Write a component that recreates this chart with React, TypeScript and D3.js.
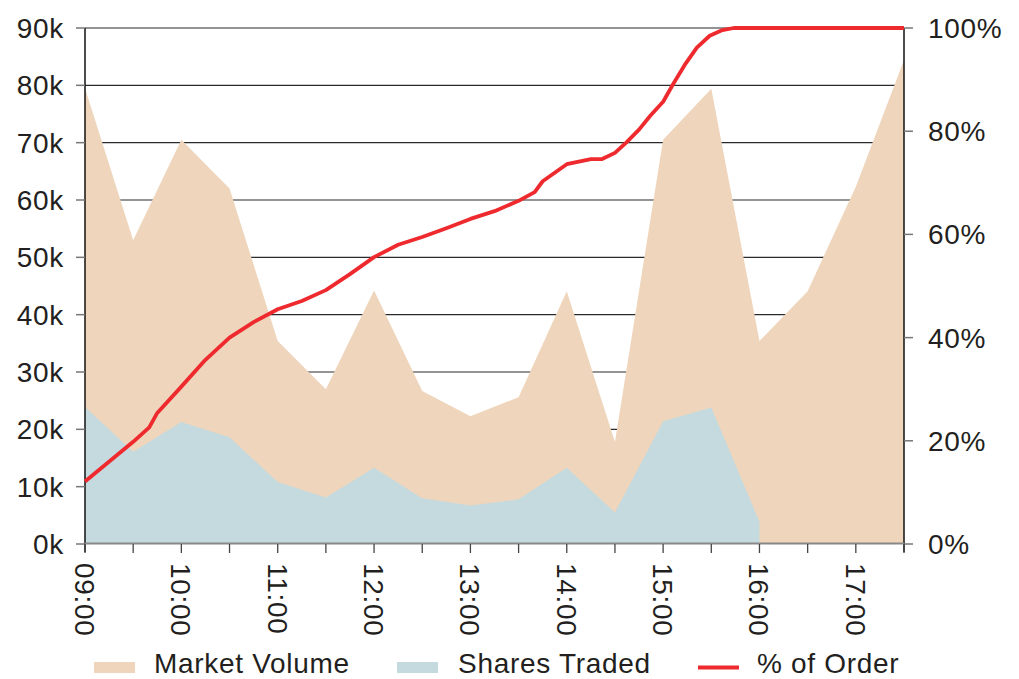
import { useEffect, useRef } from "react";
import * as d3 from "d3";

// half-hourly volume data
const volumeTimes = [
  "09:00", "09:30", "10:00", "10:30", "11:00", "11:30", "12:00", "12:30", "13:00",
  "13:30", "14:00", "14:30", "15:00", "15:30", "16:00", "16:30", "17:00", "17:30",
];
const marketVolume = [
  79500, 53000, 70500, 62000, 35400, 27000, 44200, 26700, 22300,
  25600, 44100, 17800, 70500, 79400, 35400, 44100, 62300, 84400,
];
// shares traded stops at 16:00
const sharesTraded = [
  23900, 16100, 21300, 18600, 10800, 8100, 13300, 8000, 6700,
  7800, 13300, 5500, 21400, 23800, 3900,
];

// cumulative % of order
const orderTimes = [
  "09:00", "09:30", "09:40", "09:45", "10:00", "10:15", "10:30", "10:45", "11:00",
  "11:15", "11:30", "11:45", "12:00", "12:15", "12:30", "12:45", "13:00", "13:15",
  "13:30", "13:40", "13:45", "14:00", "14:15", "14:22", "14:30", "14:37", "14:45",
  "14:52", "15:00", "15:06", "15:14", "15:21", "15:29", "15:37", "15:44", "17:30",
];
const orderPct = [
  12.1, 19.8, 22.6, 25.4, 30.5, 35.7, 40.0, 43.0, 45.5,
  47.1, 49.2, 52.3, 55.6, 58.0, 59.5, 61.2, 63.0, 64.5,
  66.5, 68.2, 70.3, 73.6, 74.6, 74.6, 75.8, 77.8, 80.3,
  83.0, 85.7, 89.0, 93.1, 96.2, 98.5, 99.6, 100, 100,
];

const xTickLabels = ["09:00", "10:00", "11:00", "12:00", "13:00", "14:00", "15:00", "16:00", "17:00"];
const leftTicks = [0, 10000, 20000, 30000, 40000, 50000, 60000, 70000, 80000, 90000];
const rightTicks = [0, 20, 40, 60, 80, 100];
const legendItems = ["Market Volume", "Shares Traded", "% of Order"];

const toMin = (t: string) => +t.slice(0, 2) * 60 + +t.slice(3);

const width = 1019;
const height = 679;
const left = 85;
const right = 904;
const top = 28;
const bottom = 544;
const font = "'Liberation Sans', Arial, Helvetica, sans-serif";
const fs = 28;
const ls = 0.7;

const App = () => {
  const ref = useRef<SVGSVGElement>(null);

  useEffect(() => {
    const svg = d3.select(ref.current);
    svg.selectAll("*").remove();

    const x = d3.scaleLinear().domain([toMin("09:00"), toMin("17:30")]).range([left, right]);
    const yL = d3.scaleLinear().domain([0, 90000]).range([bottom, top]);
    const yR = d3.scaleLinear().domain([0, 100]).range([bottom, top]);

    // grid
    svg
      .append("g")
      .selectAll("line")
      .data(leftTicks.slice(1))
      .join("line")
      .attr("x1", left)
      .attr("x2", right)
      .attr("y1", (d) => yL(d))
      .attr("y2", (d) => yL(d))
      .attr("stroke", "#2a2a2a")
      .attr("stroke-width", 1.2);

    const area = d3
      .area<number>()
      .x((_, i) => x(toMin(volumeTimes[i])))
      .y0(bottom)
      .y1((d) => yL(d));

    svg.append("path").datum(marketVolume).attr("fill", "#EED5BB").attr("d", area);

    const sharesPts = sharesTraded.map((v, i) => [toMin(volumeTimes[i]), v]);
    sharesPts.push([toMin(volumeTimes[sharesTraded.length - 1]), 0]);
    svg
      .append("path")
      .datum(sharesPts)
      .attr("fill", "#C5DADF")
      .attr(
        "d",
        d3
          .area<number[]>()
          .x((d) => x(d[0]))
          .y0(bottom)
          .y1((d) => yL(d[1]))
      );

    // left axis
    const gl = svg.append("g");
    gl.append("line")
      .attr("x1", left).attr("x2", left).attr("y1", top).attr("y2", bottom + 8)
      .attr("stroke", "#111").attr("stroke-width", 1.5);
    gl.selectAll("line.t")
      .data(leftTicks)
      .join("line")
      .attr("class", "t")
      .attr("x1", left - 9).attr("x2", left)
      .attr("y1", (d) => yL(d)).attr("y2", (d) => yL(d))
      .attr("stroke", "#777").attr("stroke-width", 1.5);
    gl.selectAll("text")
      .data(leftTicks)
      .join("text")
      .attr("x", 64)
      .attr("y", (d) => yL(d))
      .attr("dy", "0.36em")
      .attr("text-anchor", "end")
      .attr("font-family", font)
      .attr("font-size", fs)
      .attr("letter-spacing", ls)
      .attr("fill", "#231f20")
      .text((d) => `${d / 1000}k`);

    // right axis
    const gr = svg.append("g");
    gr.append("line")
      .attr("x1", right).attr("x2", right).attr("y1", top).attr("y2", bottom + 8)
      .attr("stroke", "#111").attr("stroke-width", 1.5);
    gr.selectAll("line.t")
      .data(rightTicks)
      .join("line")
      .attr("class", "t")
      .attr("x1", right).attr("x2", right + 9)
      .attr("y1", (d) => yR(d)).attr("y2", (d) => yR(d))
      .attr("stroke", "#777").attr("stroke-width", 1.5);
    gr.selectAll("text")
      .data(rightTicks)
      .join("text")
      .attr("x", 928)
      .attr("y", (d) => yR(d))
      .attr("dy", "0.36em")
      .attr("font-family", font)
      .attr("font-size", fs)
      .attr("letter-spacing", ls)
      .attr("fill", "#231f20")
      .text((d) => `${d}%`);

    // bottom axis
    const gb = svg.append("g");
    gb.append("line")
      .attr("x1", left).attr("x2", right).attr("y1", bottom - 0.5).attr("y2", bottom - 0.5)
      .attr("stroke", "#888").attr("stroke-width", 2);
    gb.selectAll("line.t")
      .data(volumeTimes)
      .join("line")
      .attr("class", "t")
      .attr("x1", (d) => x(toMin(d))).attr("x2", (d) => x(toMin(d)))
      .attr("y1", bottom).attr("y2", bottom + 9)
      .attr("stroke", "#444").attr("stroke-width", 1.3);
    gb.selectAll("text")
      .data(xTickLabels)
      .join("text")
      .attr("transform", (d) => `translate(${x(toMin(d))},${bottom + 19}) rotate(90)`)
      .attr("dy", "0.36em")
      .attr("font-family", font)
      .attr("font-size", fs)
      .attr("letter-spacing", ls)
      .attr("fill", "#231f20")
      .text((d) => d);

    // % of order line
    const line = d3
      .line<number>()
      .x((_, i) => x(toMin(orderTimes[i])))
      .y((d) => yR(d));
    svg
      .append("path")
      .datum(orderPct)
      .attr("fill", "none")
      .attr("stroke", "#EE2A2E")
      .attr("stroke-width", 3.8)
      .attr("stroke-linejoin", "round")
      .attr("d", line);

    // legend
    const lg = svg
      .append("g")
      .attr("font-family", font)
      .attr("font-size", fs)
      .attr("letter-spacing", ls)
      .attr("fill", "#231f20");
    const swX = [94, 397, 698];
    const txX = [154, 458, 757];
    lg.append("rect").attr("x", swX[0]).attr("y", 662).attr("width", 41).attr("height", 11).attr("fill", "#EED5BB");
    lg.append("rect").attr("x", swX[1]).attr("y", 662).attr("width", 41).attr("height", 11).attr("fill", "#C5DADF");
    lg.append("line")
      .attr("x1", swX[2]).attr("x2", swX[2] + 41).attr("y1", 667.5).attr("y2", 667.5)
      .attr("stroke", "#EE2A2E").attr("stroke-width", 4);
    legendItems.forEach((t, i) => {
      lg.append("text").attr("x", txX[i]).attr("y", 673).text(t);
    });
  });

  return (
    <svg
      ref={ref}
      width={width}
      height={height}
      style={{ position: "absolute", left: 0, top: 0, background: "#fff" }}
    />
  );
};

export default App;
